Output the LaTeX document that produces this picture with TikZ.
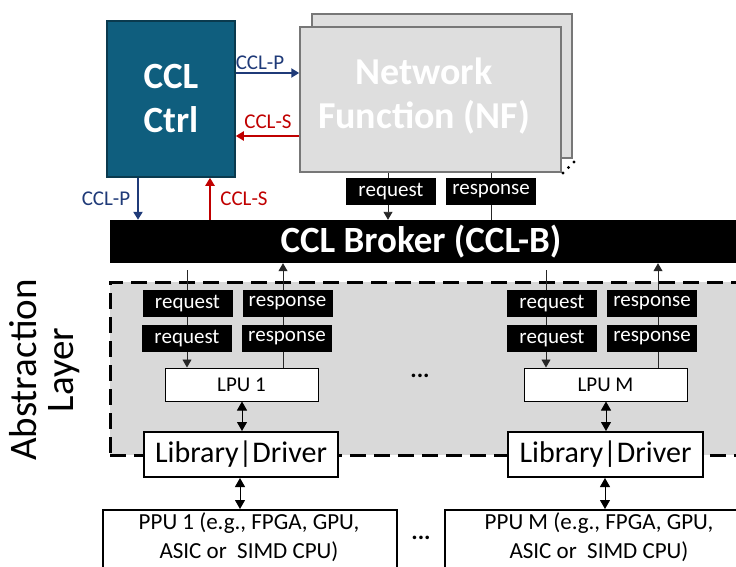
\documentclass[tikz,border=0pt]{standalone}
\usepackage{fontspec}
\setmainfont{Carlito}
\usetikzlibrary{arrows.meta,calc}
\definecolor{ctrlfill}{HTML}{0F5E7E}
\definecolor{ctrldraw}{HTML}{0A3A4E}
\definecolor{nffill}{HTML}{DEDEDE}
\definecolor{nfdraw}{HTML}{777777}
\definecolor{layerfill}{HTML}{D9D9D9}
\definecolor{cclp}{HTML}{1F3A78}
\definecolor{ccls}{HTML}{C00000}
\newcommand{\fs}[1]{\fontsize{#1}{#1}\selectfont}
\begin{document}
\begin{tikzpicture}[x=1pt,y=-1pt,
  tag/.style={fill=black, text=white, font=\fs{21}, inner sep=0pt, minimum width=90pt, minimum height=27pt},
  wbox/.style={draw=black, fill=white, inner sep=0pt},
  thinarrow/.style={draw=black!85, line width=0.9pt, -{Triangle[width=9pt,length=8pt]}},
  dblarrow/.style={draw=black, line width=0.9pt, {Triangle[width=10pt,length=9pt]}-{Triangle[width=10pt,length=9pt]}},
  ctrlarrow/.style={line width=2pt, -{Triangle[width=9pt,length=8pt]}},
  ctrllbl/.style={font=\fs{21}, inner sep=0pt}
]
\useasboundingbox (0,0) rectangle (736,567);

% abstraction layer
\node[draw=black, fill=layerfill, line width=3pt, dash pattern=on 16pt off 8pt, inner sep=0pt,
  minimum width=640pt, minimum height=173pt] (layer) at (430,368.5) {};
\node[rotate=90, align=center, font=\fs{39}, inner sep=0pt] (layertxt) at (45,370) {Abstraction\\[-2pt]Layer};

% CCL Ctrl
\node[draw=ctrldraw, fill=ctrlfill, line width=1.5pt, minimum width=128pt, minimum height=156pt, inner sep=0pt,
  text=white, font=\bfseries\fs{37}, align=center] (ctrl) at (171,99) {CCL\\[7pt]Ctrl};

% NF stack
\node[draw=nfdraw, fill=nffill, line width=1.5pt, minimum width=260pt, minimum height=144pt, inner sep=0pt] (nfback) at (442,86) {};
\node[draw=nfdraw, fill=nffill, line width=1.5pt, minimum width=261pt, minimum height=145pt, inner sep=0pt] (nf) at (430.5,99.5) {};
\node[text=white, font=\bfseries\fs{38}, align=center, inner sep=0pt] (nftxt) at (424,96) {Network\\[6pt]Function (NF)};
\fill (563,173) circle (1.6pt) (568.5,167.5) circle (1.6pt) (574,162) circle (1.6pt);

% Broker
\node[fill=black, minimum width=630pt, minimum height=43pt, inner sep=0pt] (broker) at (425,241.5) {};
\node[text=white, font=\bfseries\fs{37}, inner sep=0pt] (brokertxt) at (421,242) {CCL Broker (CCL-B)};

% Ctrl <-> NF
\draw[ctrlarrow, cclp] (ctrl.east |- 0,73) -- (nf.west |- 0,73);
\node[ctrllbl, text=cclp] (lp1) at (260,63) {CCL-P};
\draw[ctrlarrow, ccls] (nf.west |- 0,136) -- (ctrl.east |- 0,136);
\node[ctrllbl, text=ccls] (ls1) at (268,122) {CCL-S};
% Ctrl <-> Broker
\draw[ctrlarrow, cclp] (ctrl.south -| 138,0) -- (broker.north -| 138,0);
\node[ctrllbl, text=cclp] (lp2) at (106,199) {CCL-P};
\draw[ctrlarrow, ccls] (broker.north -| 210,0) -- (ctrl.south -| 210,0);
\node[ctrllbl, text=ccls] (ls2) at (244,199) {CCL-S};

% NF request/response
\coordinate (nfreqx) at (388,0);
\coordinate (nfresx) at (491,0);
\draw[thinarrow] (nf.south -| nfreqx) -- (broker.north -| nfreqx);
\draw[draw=black!85, line width=0.9pt] (broker.north -| nfresx) -- (nf.south -| nfresx);
\node[tag] (nfreq) at (391,191.5) {request};
\node[tag] (nfres) at (491,191.5) {response};

% Column 1
\node[wbox, line width=1pt, minimum width=153pt, minimum height=33pt, font=\fs{21}] (lpu1) at (241.5,384.5) {LPU 1};
\coordinate (r1x) at (187,0);
\coordinate (s1x) at (283,0);
\draw[thinarrow] (187,270) -- (lpu1.north -| r1x);
\draw[thinarrow] (lpu1.north -| s1x) -- (broker.south -| s1x);
\node[tag] (req1a) at (187.5,303.5) {request};
\node[tag] (res1a) at (287.5,303.5) {response};
\node[tag] (req1b) at (187,338.5) {request};
\node[tag] (res1b) at (287,338.5) {response};
\node[wbox, line width=2pt, minimum width=194pt, minimum height=45pt, font=\fs{30}] (lib1) at (241,454.5) {Library|Driver};
\node[wbox, line width=1.5pt, minimum width=294pt, minimum height=80pt, anchor=north] (ppu1) at (250,509) {};
\node[font=\fs{23}, align=center, inner sep=0pt] (ppu1txt) at (249,537.5) {PPU 1 (e.g., FPGA, GPU,\\[6pt]ASIC or\ \ SIMD CPU)};
\draw[dblarrow] (lpu1.south -| 242,0) -- (lib1.north -| 242,0);
\draw[dblarrow] (lib1.south -| 240,0) -- (ppu1.north -| 240,0);

% Column M
\node[wbox, line width=1pt, minimum width=163pt, minimum height=33pt, font=\fs{21}] (lpum) at (605.5,384.5) {LPU M};
\coordinate (rmx) at (546,0);
\coordinate (smx) at (658,0);
\draw[thinarrow] (546,270) -- (lpum.north -| rmx);
\draw[thinarrow] (lpum.north -| smx) -- (broker.south -| smx);
\node[tag] (reqma) at (552,303.5) {request};
\node[tag] (resma) at (652,303.5) {response};
\node[tag] (reqmb) at (552,338.5) {request};
\node[tag] (resmb) at (652,338.5) {response};
\node[wbox, line width=2pt, minimum width=195pt, minimum height=45pt, font=\fs{30}] (libm) at (605.5,454.5) {Library|Driver};
\node[wbox, line width=1.5pt, minimum width=308pt, minimum height=80pt, anchor=north] (ppum) at (599,509) {};
\node[font=\fs{23}, align=center, inner sep=0pt] (ppumtxt) at (599,537.5) {PPU M (e.g., FPGA, GPU,\\[6pt]ASIC or\ \ SIMD CPU)};
\draw[dblarrow] (lpum.south -| 606,0) -- (libm.north -| 606,0);
\draw[dblarrow] (libm.south -| 605,0) -- (ppum.north -| 605,0);

% ellipses
\node[font=\bfseries\fs{24}, inner sep=0pt] (dots1) at (420,376) {...};
\node[font=\bfseries\fs{24}, inner sep=0pt] (dots2) at (421,538) {...};
\end{tikzpicture}
\end{document}
